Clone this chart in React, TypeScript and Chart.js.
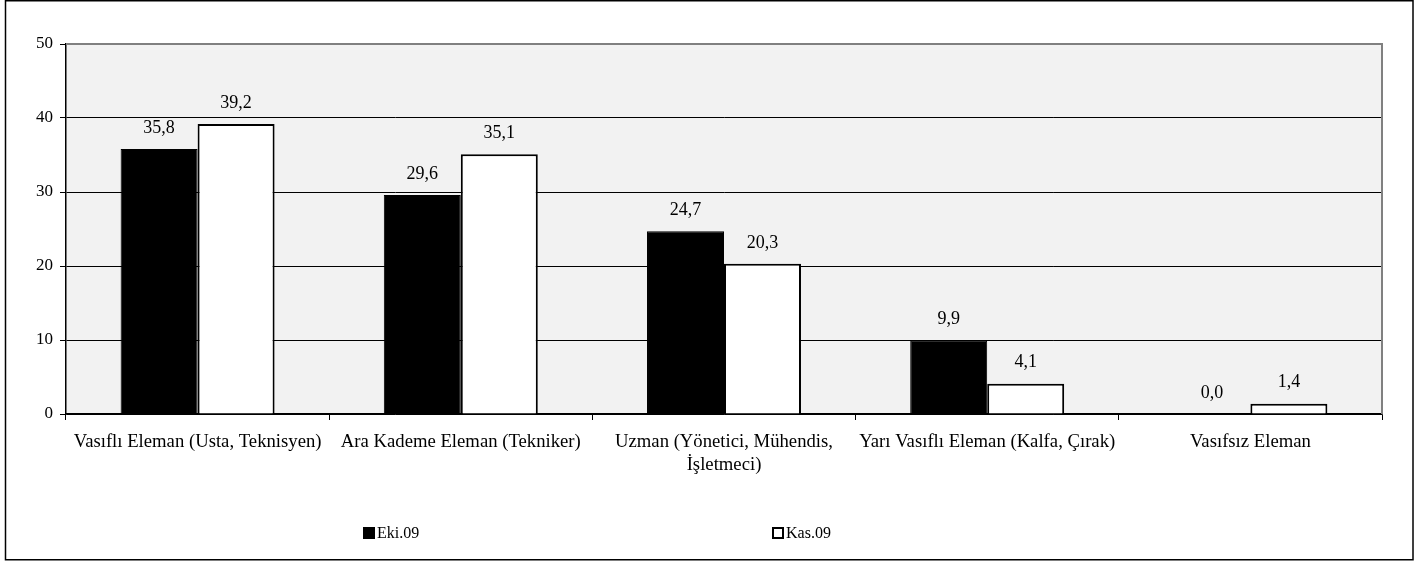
import React, { useEffect, useRef } from "react";
import { Chart, registerables } from "chart.js";

Chart.register(...registerables);

const categories: (string | string[])[] = [
  "Vasıflı Eleman (Usta, Teknisyen)",
  "Ara Kademe Eleman (Tekniker)",
  ["Uzman (Yönetici, Mühendis,", "İşletmeci)"],
  "Yarı Vasıflı Eleman (Kalfa, Çırak)",
  "Vasıfsız Eleman",
];
const seriesNames = ["Eki.09", "Kas.09"];
const ekiValues = [35.8, 29.6, 24.7, 9.9, 0.0];
const kasValues = [39.2, 35.1, 20.3, 4.1, 1.4];
const yTicks = [0, 10, 20, 30, 40, 50];

const FONT = '"Liberation Serif", "Times New Roman", serif';

const framePlugin = {
  id: "frame",
  beforeDraw(chart: any) {
    const { ctx, chartArea } = chart;
    ctx.save();
    ctx.fillStyle = "#ffffff";
    ctx.fillRect(0, 0, chart.width, chart.height);
    ctx.fillStyle = "#f2f2f2";
    ctx.fillRect(chartArea.left, chartArea.top, chartArea.right - chartArea.left, chartArea.bottom - chartArea.top);
    ctx.restore();
  },
  afterDraw(chart: any) {
    const { ctx, chartArea } = chart;
    ctx.save();
    ctx.strokeStyle = "#808080";
    ctx.lineWidth = 2;
    ctx.beginPath();
    ctx.moveTo(chartArea.left, chartArea.top);
    ctx.lineTo(chartArea.right, chartArea.top);
    ctx.lineTo(chartArea.right, chartArea.bottom);
    ctx.stroke();
    ctx.strokeStyle = "#000000";
    ctx.lineWidth = 1.5;
    ctx.strokeRect(5.5, 0.75, 1407.5, 559);
    const legendX = [363, 772];
    const legendY = 533;
    ctx.font = `16px ${FONT}`;
    ctx.textBaseline = "middle";
    ctx.textAlign = "left";
    chart.data.datasets.forEach((ds: any, i: number) => {
      const x = legendX[i];
      if (i === 0) {
        ctx.fillStyle = "#000";
        ctx.fillRect(x, legendY - 6, 12, 12);
      } else {
        ctx.fillStyle = "#fff";
        ctx.fillRect(x, legendY - 6, 12, 12);
        ctx.strokeStyle = "#000";
        ctx.lineWidth = 2;
        ctx.strokeRect(x + 1, legendY - 5, 10, 10);
      }
      ctx.fillStyle = "#000";
      ctx.fillText(ds.label, x + 14, legendY + 1);
    });
    ctx.restore();
  },
};

const labelPlugin = {
  id: "valueLabels",
  afterDatasetsDraw(chart: any) {
    const { ctx } = chart;
    ctx.save();
    ctx.font = `18px ${FONT}`;
    ctx.fillStyle = "#000";
    ctx.textAlign = "center";
    ctx.textBaseline = "middle";
    chart.data.datasets.forEach((ds: any, i: number) => {
      const meta = chart.getDatasetMeta(i);
      meta.data.forEach((bar: any, j: number) => {
        const v = ds.data[j] as number;
        ctx.fillText(v.toFixed(1).replace(".", ","), bar.x, bar.y - 21);
      });
    });
    ctx.restore();
  },
};

export default function App() {
  const canvasRef = useRef<HTMLCanvasElement | null>(null);

  useEffect(() => {
    if (!canvasRef.current) return;
    const chart = new Chart(canvasRef.current, {
      type: "bar",
      data: {
        labels: categories as any,
        datasets: [
          {
            label: seriesNames[0],
            data: ekiValues,
            backgroundColor: "#000000",
            borderColor: "#000000",
            borderWidth: 1,
            categoryPercentage: 0.585,
            barPercentage: 1,
          },
          {
            label: seriesNames[1],
            data: kasValues,
            backgroundColor: "#ffffff",
            borderColor: "#000000",
            borderWidth: 2,
            categoryPercentage: 0.585,
            barPercentage: 1,
          },
        ],
      },
      options: {
        responsive: false,
        animation: false,
        devicePixelRatio: 1,
        layout: { padding: { top: 44, right: 45, left: 0, bottom: 0 } },
        plugins: {
          legend: { display: false },
          tooltip: { enabled: false },
          title: { display: false },
        },
        scales: {
          x: {
            grid: {
              offset: true,
              drawOnChartArea: false,
              drawTicks: true,
              tickLength: 6,
              color: "#000",
              tickColor: "#000",
            },
            border: { color: "#000", width: 1.5 },
            ticks: {
              color: "#000",
              font: { family: FONT, size: 18.7, lineHeight: 1.2 },
              padding: 11,
              maxRotation: 0,
              autoSkip: false,
            },
            afterFit(scale: any) {
              scale.height = 149;
            },
          },
          y: {
            min: 0,
            max: 50,
            afterBuildTicks(scale: any) {
              scale.ticks = yTicks.map((v) => ({ value: v }));
            },
            grid: {
              color: (c: any) => (c.tick && c.tick.value === 50 ? "rgba(0,0,0,0)" : "#000"),
              tickColor: "#000",
              lineWidth: 1,
              tickLength: 6,
            },
            border: { color: "#000", width: 1.5 },
            ticks: {
              color: "#000",
              font: { family: FONT, size: 17 },
              padding: 7,
            },
            afterFit(scale: any) {
              scale.width = 66;
            },
          },
        },
      },
      plugins: [framePlugin, labelPlugin],
    });
    return () => chart.destroy();
  }, []);

  return (
    <div style={{ position: "fixed", left: 0, top: 0, width: 1427, height: 563, background: "#fff" }}>
      <canvas ref={canvasRef} width={1427} height={563} style={{ display: "block" }} />
    </div>
  );
}
